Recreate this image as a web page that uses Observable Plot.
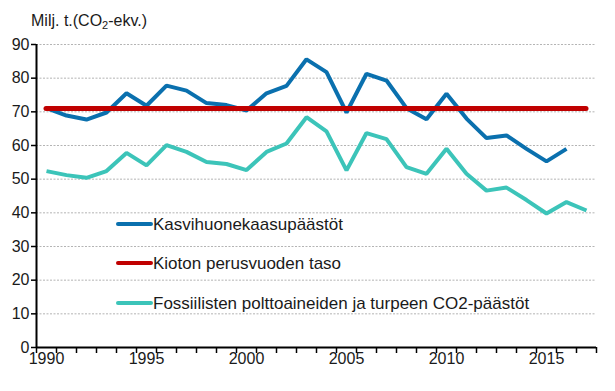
<!DOCTYPE html>
<html>
<head>
<meta charset="utf-8">
<script src="https://cdn.jsdelivr.net/npm/d3@7"></script>
<script src="https://cdn.jsdelivr.net/npm/@observablehq/plot@0.6"></script>
<style>
  body { margin: 0; background: #fff; font-family: "Liberation Sans", Arial, sans-serif; }
  #wrap { position: relative; width: 615px; height: 391px; }
  #title { position: absolute; left: 31px; top: 12px; font-size: 16px; line-height: 17px; color: #1a1a1a; white-space: nowrap; }
  #title sub { font-size: 11px; vertical-align: -3px; line-height: 0; }
  #chart { position: absolute; left: 0; top: 30px; }
</style>
</head>
<body>
<div id="wrap">
  <div id="title">Milj. t.(CO<sub>2</sub>-ekv.)</div>
  <div id="chart"></div>
</div>
<script>
const years = d3.range(1990, 2018);
const ghgYears = d3.range(1990, 2017);
const ghg = [71.1, 68.9, 67.7, 69.8, 75.5, 71.8, 77.8, 76.3, 72.6, 72.0, 70.4, 75.5, 77.7, 85.6,
             81.8, 69.8, 81.3, 79.3, 71.1, 67.8, 75.4, 68.0, 62.2, 63.0, 59.0, 55.3, 59.0];
const fossil = [52.4, 51.2, 50.4, 52.4, 57.8, 54.1, 60.1, 58.1, 55.1, 54.5, 52.7, 58.1, 60.6, 68.4,
                64.2, 52.6, 63.7, 61.9, 53.6, 51.6, 59.0, 51.6, 46.6, 47.5, 43.8, 39.8, 43.2, 40.7];
const kyotoBase = 71.0;
const yTicks = [0, 10, 20, 30, 40, 50, 60, 70, 80, 90];
const xLabels = [1990, 1995, 2000, 2005, 2010, 2015];
const seriesNames = ["Kasvihuonekaasupäästöt", "Kioton perusvuoden taso", "Fossiilisten polttoaineiden ja turpeen CO2-päästöt"];
const seriesColors = ["#0A70AE", "#C00000", "#3CC4B9"];

const ghgData = ghgYears.map((y, i) => ({year: y, value: ghg[i]}));
const fossilData = years.map((y, i) => ({year: y, value: fossil[i]}));
const boundaries = d3.range(years[0] - 0.5, years[years.length - 1] + 1, 1);

const chart = Plot.plot({
  width: 615,
  height: 361,
  marginLeft: 36,
  marginRight: 19,
  marginTop: 14,
  marginBottom: 44,
  style: {fontFamily: "'Liberation Sans', Arial, sans-serif", fontSize: "16px", color: "#1a1a1a", background: "white"},
  x: {domain: [years[0] - 0.5, years[years.length - 1] + 0.5]},
  y: {domain: [0, 90]},
  marks: [
    Plot.gridY(yTicks.slice(1), {stroke: "#b4b4b4", strokeOpacity: 1, strokeDasharray: "2,1.5", strokeWidth: 1}),
    Plot.axisY(yTicks, {tickSize: 5, tickPadding: 2, label: null, stroke: "#000", strokeWidth: 1.5, fontSize: 16, fill: "#1a1a1a"}),
    Plot.axisX(boundaries, {tickSize: 6, tickFormat: () => "", label: null, stroke: "#000", strokeWidth: 1.5}),
    Plot.axisX(xLabels, {tickSize: 0, tickPadding: 5, tickFormat: d => String(d), label: null, fontSize: 16, fill: "#1a1a1a"}),
    Plot.ruleX([years[0] - 0.5], {stroke: "#000", strokeWidth: 2}),
    Plot.ruleY([0], {stroke: "#000", strokeWidth: 2}),
    Plot.line(fossilData, {x: "year", y: "value", stroke: seriesColors[2], strokeWidth: 4, strokeLinejoin: "miter", strokeLinecap: "butt"}),
    Plot.line(ghgData, {x: "year", y: "value", stroke: seriesColors[0], strokeWidth: 4, strokeLinejoin: "miter", strokeLinecap: "butt"}),
    Plot.ruleY([kyotoBase], {x1: years[0], x2: years[years.length - 1], stroke: seriesColors[1], strokeWidth: 5, strokeLinecap: "round"})
  ]
});
document.getElementById("chart").appendChild(chart);

// Legend inside the plot area
const svg = d3.select(chart);
const legendRows = [194, 233, 273];
const lg = svg.append("g").attr("text-anchor", "start");
seriesNames.forEach((name, i) => {
  const g = lg.append("g").attr("transform", `translate(118,${legendRows[i]})`);
  g.append("line").attr("x1", 0).attr("x2", 33).attr("y1", 0).attr("y2", 0)
    .attr("stroke", seriesColors[i]).attr("stroke-width", 4).attr("stroke-linecap", "round");
  g.append("text").attr("x", 35).attr("y", 0).attr("dy", "0.35em")
    .attr("font-size", 17).attr("fill", "#1a1a1a").attr("text-anchor", "start")
    .attr("font-family", "'Liberation Sans', Arial, sans-serif")
    .text(name);
});
</script>
</body>
</html>
